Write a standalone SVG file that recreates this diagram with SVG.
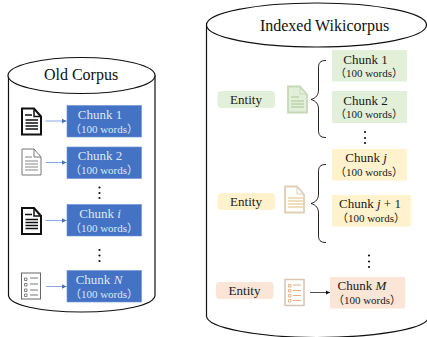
<svg xmlns="http://www.w3.org/2000/svg" width="427" height="337" viewBox="0 0 427 337">
<style>
text{font-family:"Liberation Serif","Noto Sans CJK SC",serif;text-anchor:middle}
.t{font-size:13px;fill:#1a1a1a}
.s{font-size:11px;fill:#1a1a1a}
.w .t,.w .s{fill:#dfe7f5}
.cyl{fill:#fff;stroke:#111;stroke-width:1.200}
.blue{fill:#4472c4;stroke:#6f8fcf;stroke-width:.6}
.dot{fill:#111}
.conn{fill:none;stroke:#7f9fdc;stroke-width:.9}
.br{fill:none;stroke:#222;stroke-width:1}
</style>
<defs>
<marker id="ab" markerWidth="6" markerHeight="6" refX="5" refY="3" orient="auto"><path d="M0 .5L5 3L0 5.500Z" fill="#4472c4"/></marker>
<marker id="ak" markerWidth="6" markerHeight="6" refX="5" refY="3" orient="auto"><path d="M0 .5L5 3L0 5.500Z" fill="#111"/></marker>
<path id="doc" d="M0 0H12L19 8V26H0Z"/>
</defs>
<g id="old-corpus">
<path class="cyl" d="M8.500 75.500V295C8.500 305 40 312 81.500 312S155 305 155 295V75.500"/>
<ellipse class="cyl" cx="81.500" cy="75.500" rx="73.500" ry="18"/>
<text x="81" y="80" style="font-size:16px;fill:#111">Old Corpus</text>
</g>
<g id="wikicorpus">
<path class="cyl" d="M206.500 25V316C206.500 328 260 337.500 316.500 337.500S427 329 428 318"/>
<ellipse class="cyl" cx="316.500" cy="25" rx="110" ry="22"/>
<text x="324.500" y="31" style="font-size:16px;fill:#111">Indexed Wikicorpus</text>
</g>
<g id="connectors">
<path class="conn" d="M45.500 121H66.500" marker-end="url(#ab)"/>
<path class="conn" d="M45.500 162.500H66.500" marker-end="url(#ab)"/>
<path class="conn" d="M45.500 220.500H66.500" marker-end="url(#ab)"/>
<path class="conn" d="M46 286.500H66.500" marker-end="url(#ab)"/>
<path d="M310 292.500H330" fill="none" stroke="#222" stroke-width=".8" marker-end="url(#ak)"/>
<path class="br" d="M326 60.500C320 60.500 318.500 63 318.500 68V90C318.500 95 316 98 311 99.500C316 101 318.500 104 318.500 109V130C318.500 135 320 137.500 326 137.500"/>
<path class="br" d="M326 164.500C320 164.500 318.500 167 318.500 172V194C318.500 199 316 202 311 203.500C316 205 318.500 208 318.500 213V235C318.500 240 320 242.500 326 242.500"/>
</g>
<g id="doc1"><use href="#doc" x="22" y="108.500" fill="#fff" stroke="#111" stroke-width="2"/><path d="M34 108.500V116.500H41M25 115H32" fill="none" stroke="#111" stroke-width="1.500"/><path d="M25.500 120H38M25.500 123H38M25.500 126H38M25.500 129H38" stroke="#111" stroke-width="1.500"/></g>
<g id="doc2"><use href="#doc" x="22" y="149" fill="#fff" stroke="#777" stroke-width="1"/><path d="M34 149V157H41" fill="none" stroke="#777"/><path d="M25 157H32M25 161H38M25 164H38M25 167H38M25 170H38" stroke="#666" stroke-width=".8"/></g>
<g id="doc3"><use href="#doc" x="22" y="208" fill="#fff" stroke="#111" stroke-width="2"/><path d="M34 208V216H41M25 214.500H32" fill="none" stroke="#111" stroke-width="1.500"/><path d="M25.500 219.500H38M25.500 222.500H38M25.500 225.500H38M25.500 228.500H38" stroke="#111" stroke-width="1.500"/></g>
<g id="doc4"><rect x="21.500" y="273" width="19" height="26" fill="#fff" stroke="#666"/><path d="M24.500 278h2.500v2.500h-2.500zM24.500 283.500h2.500v2.500h-2.500zM24.500 289h2.500v2.500h-2.500zM24.500 294h2.500v2.500h-2.500z" fill="none" stroke="#555" stroke-width=".7"/><path d="M30 278H38M30 284H38M30 290H38M30 295H38" stroke="#555" stroke-width=".8"/></g>
<g id="chunk1" class="w"><rect class="blue" x="67" y="105.500" width="74.500" height="31.500"/><text class="t" x="100" y="119">Chunk 1</text><text class="s" x="104" y="133">（100 words）</text></g>
<g id="chunk2" class="w"><rect class="blue" x="67" y="147" width="74.500" height="31.500"/><text class="t" x="100" y="160">Chunk 2</text><text class="s" x="104" y="174">（100 words）</text></g>
<g id="dots1"><circle class="dot" cx="99.500" cy="187.500" r="1.100"/><circle class="dot" cx="99.500" cy="193" r="1.100"/><circle class="dot" cx="99.500" cy="198" r="1.100"/></g>
<g id="chunki" class="w"><rect class="blue" x="67" y="204.500" width="74.500" height="31.500"/><text class="t" x="100" y="218">Chunk <tspan font-style="italic">i</tspan></text><text class="s" x="104" y="232">（100 words）</text></g>
<g id="dots2"><circle class="dot" cx="99.500" cy="250" r="1.100"/><circle class="dot" cx="99.500" cy="255.500" r="1.100"/><circle class="dot" cx="99.500" cy="261" r="1.100"/></g>
<g id="chunkN" class="w"><rect class="blue" x="67" y="270.500" width="74.500" height="31.500"/><text class="t" x="99" y="284">Chunk <tspan font-style="italic">N</tspan></text><text class="s" x="104" y="298">（100 words）</text></g>

<g id="entity1"><rect x="217.500" y="91" width="57.500" height="17" rx="4" fill="#e2efd9"/><text class="t" x="246" y="104">Entity</text></g>
<g id="wdoc1"><use href="#doc" x="288" y="86.500" fill="#e2efd9" stroke="#c5d9b7" stroke-width="1.800"/><path d="M300 86.500V94H307" fill="none" stroke="#c5d9b7"/><path d="M291 97H299M291 101H304M291 104H304M291 107H304" stroke="#a9c695" stroke-width="1"/></g>
<g id="wchunk1"><rect x="332" y="50" width="75" height="31.500" fill="#e2efd9"/><text class="t" x="365.500" y="64">Chunk 1</text><text class="s" x="369" y="77">（100 words）</text></g>
<g id="wchunk2"><rect x="332" y="91" width="75" height="32" fill="#e2efd9"/><text class="t" x="365.500" y="105">Chunk 2</text><text class="s" x="369" y="118">（100 words）</text></g>
<g id="dots3"><circle class="dot" cx="365" cy="132" r="1.100"/><circle class="dot" cx="365" cy="138" r="1.100"/><circle class="dot" cx="365" cy="143" r="1.100"/></g>
<g id="entity2"><rect x="217.500" y="193" width="57.500" height="17" rx="4" fill="#fff2cc"/><text class="t" x="246" y="206">Entity</text></g>
<g id="wdoc2"><use href="#doc" x="285" y="186.500" fill="#fff" stroke="#dfd0b5" stroke-width="1.800"/><path d="M297 186.500V194H304" fill="none" stroke="#dfd0b5"/><path d="M288 198H303M288 201H303M288 204H303M288 207H303" stroke="#dcc07a" stroke-width="1"/></g>
<g id="wchunkj"><rect x="332" y="149" width="75" height="31.500" fill="#fff2cc"/><text class="t" x="366" y="162">Chunk <tspan font-style="italic">j</tspan></text><text class="s" x="369" y="176">（100 words）</text></g>
<g id="wchunkj1"><rect x="332" y="195" width="79" height="31.500" fill="#fff2cc"/><text class="t" x="370" y="208">Chunk <tspan font-style="italic">j</tspan> + 1</text><text class="s" x="371" y="222">（100 words）</text></g>
<g id="dots4"><circle class="dot" cx="369" cy="255.500" r="1.100"/><circle class="dot" cx="369" cy="261.500" r="1.100"/><circle class="dot" cx="369" cy="267" r="1.100"/></g>
<g id="entity3"><rect x="216" y="282" width="57.500" height="17" rx="4" fill="#fbe5d6"/><text class="t" x="244.500" y="295">Entity</text></g>
<g id="wdoc3"><rect x="285" y="279.500" width="19" height="26" fill="#fff" stroke="#d6c3b4" stroke-width="1.500"/><path d="M288.500 284.500h2.500v2.500h-2.500zM288.500 289.500h2.500v2.500h-2.500zM288.500 294.500h2.500v2.500h-2.500zM288.500 299.500h2.500v2.500h-2.500z" fill="none" stroke="#e0995f" stroke-width=".7"/><path d="M293 285H301M293 290.500H301M293 295.500H301M293 300.500H301" stroke="#e0995f" stroke-width=".8"/></g>
<g id="wchunkM"><rect x="330" y="277" width="75" height="31.500" fill="#fbe5d6"/><text class="t" x="362" y="290">Chunk <tspan font-style="italic">M</tspan></text><text class="s" x="367" y="304">（100 words）</text></g>
</svg>
